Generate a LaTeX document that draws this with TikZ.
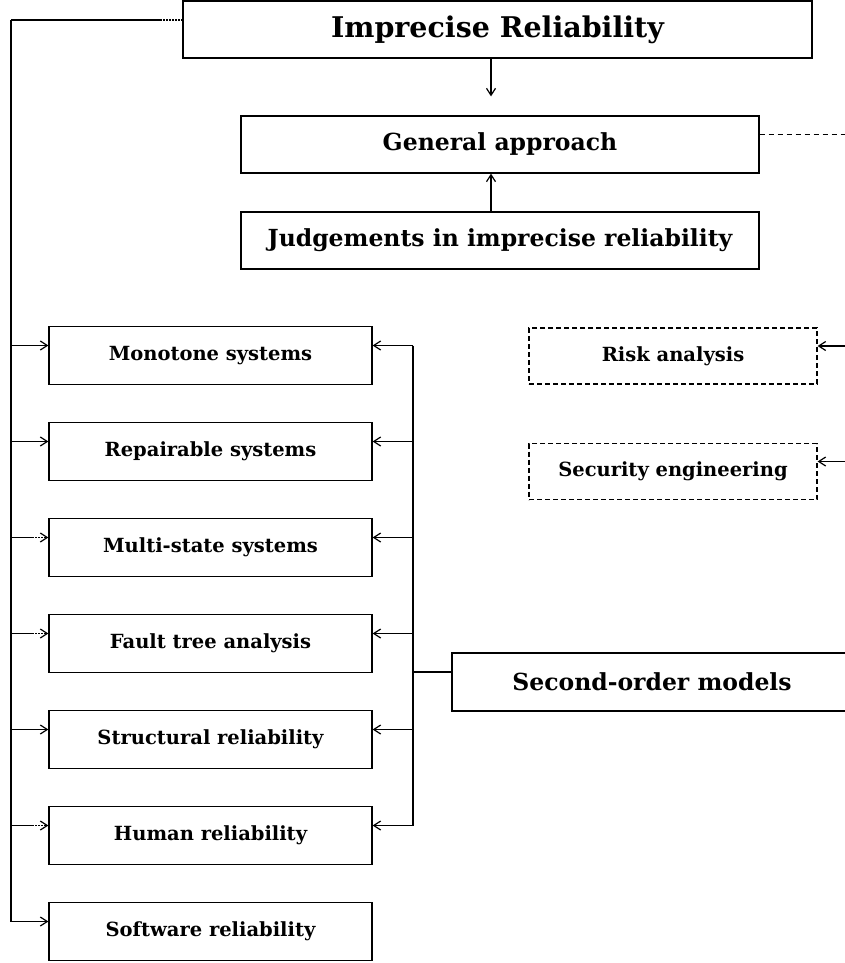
\documentclass[tikz,border=0pt]{standalone}
\usepackage{fontspec}
\setmainfont{DejaVu Serif}
\usetikzlibrary{arrows.meta, positioning}

\begin{document}
\begin{tikzpicture}[x=1pt,y=1pt,>={Straight Barb[length=7pt,width=9pt]},line width=1.2pt,
  node distance=96pt,
  big box/.style={draw,minimum height=57pt,font=\fontsize{23.5}{26}\selectfont\bfseries},
  sub box/.style={draw,minimum width=323pt,minimum height=58pt,font=\fontsize{19.5}{22}\selectfont\bfseries},
  side box/.style={draw,dash pattern=on 5pt off 3pt,minimum width=288pt,minimum height=56pt,
    font=\fontsize{19.5}{22}\selectfont\bfseries},
  dash line/.style={dash pattern=on 5pt off 4pt},
  dot line/.style={dash pattern=on 1.5pt off 1.5pt}]
  \useasboundingbox (0,0) rectangle (845,-963);
  \coordinate (corner) at (11,-20);
  \coordinate (rbus) at (413,0);
  \coordinate (edge) at (845,0);

  \node[big box, minimum width=629pt, font=\fontsize{28.5}{30}\selectfont\bfseries] (IR) at (497.5,-29.5) {Imprecise Reliability};
  \node[big box, minimum width=518pt] (GA) at (500,-144.5) {General approach};
  \node[big box, minimum width=518pt] (JI) at (500,-240.5) {Judgements in imprecise reliability};

  \node[sub box] (mono) at (210.5,-355.5) {Monotone systems};
  \node[sub box] (repair) [below of=mono] {Repairable systems};
  \node[sub box] (multi) [below of=repair] {Multi-state systems};
  \node[sub box] (fault) [below of=multi] {Fault tree analysis};
  \node[sub box] (struct) [below of=fault] {Structural reliability};
  \node[sub box] (human) [below of=struct] {Human reliability};
  \node[sub box] (soft) [below of=human] {Software reliability};

  \node[side box] (risk) at (673,-356) {Risk analysis};
  \node[side box] (secur) at (673,-471.5) {Security engineering};
  \node[big box, minimum width=400pt, minimum height=58pt] (SO) at (652,-682) {Second-order models};

  % top part
  \draw[->,shorten >=19pt] ([xshift=-9pt]GA.north |- IR.south) -- ([xshift=-9pt]GA.north);
  \draw[->] ([xshift=-9pt]JI.north) -- ([xshift=-9pt]GA.south);
  \draw[dash line] ([yshift=10pt]GA.east) -- ([yshift=10pt]GA.east -| edge);

  % left bus
  \draw (corner) -- ++(149,0) coordinate (IRdot);
  \draw[dot line] (IRdot) -- ([yshift=9.5pt]IR.west);
  \draw[->] (corner) |- ([yshift=10pt]soft.west);
  \foreach \n in {mono,repair,struct}
    \draw[->] ([yshift=10pt]\n.west -| corner) -- ([yshift=10pt]\n.west);
  \foreach \n in {multi,fault,human} {
    \draw ([yshift=10pt]\n.west -| corner) -- ++(21,0) coordinate (\n dot);
    \draw[->,dot line] (\n dot) -- ([yshift=10pt]\n.west);
  }

  % right bus
  \draw ([yshift=10pt]mono.east -| rbus) -- ([yshift=10pt]human.east -| rbus);
  \foreach \n in {mono,repair,multi,fault,struct,human}
    \draw[->] ([yshift=10pt]\n.east -| rbus) -- ([yshift=10pt]\n.east);
  \draw ([yshift=10pt]SO.west -| rbus) -- ([yshift=10pt]SO.west);

  % side boxes
  \draw[->] ([yshift=10pt]risk.east -| edge) -- ([yshift=10pt]risk.east);
  \draw[->] ([yshift=10pt]secur.east -| edge) -- ([yshift=10pt]secur.east);
\end{tikzpicture}
\end{document}
